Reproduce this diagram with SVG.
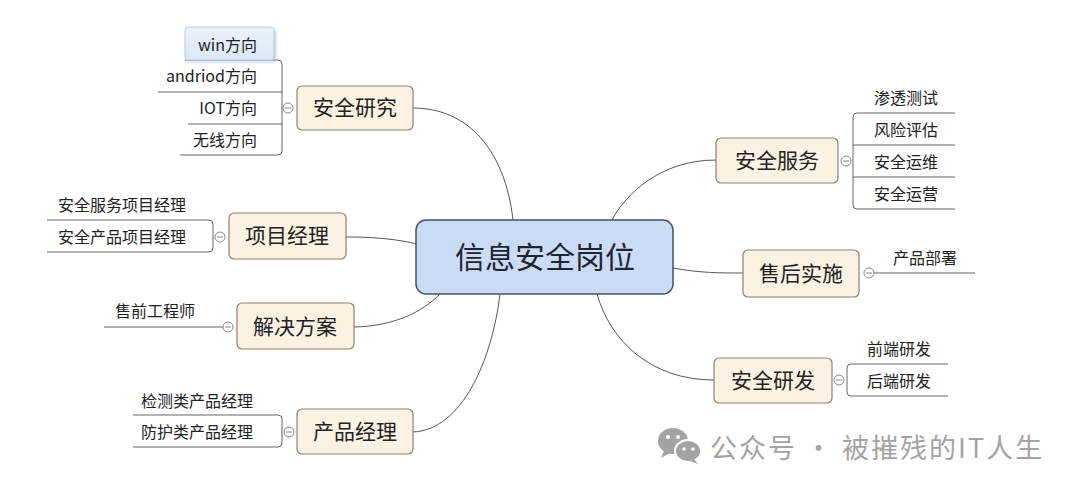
<svg xmlns="http://www.w3.org/2000/svg" width="1080" height="491" viewBox="0 0 1080 491">
<defs>
<style>
text{font-family:"Noto Sans CJK SC","Noto Sans",sans-serif;fill:#222}
.node rect{fill:#fcf2e4;stroke:#8a8075;stroke-width:1.2}
.nt{font-size:21px;text-anchor:middle}
.ct{font-size:30px;text-anchor:middle;fill:#1f2530}
.ch{font-size:16px}
.end{text-anchor:end}
.line{fill:none;stroke:#555;stroke-width:1}
.br{fill:none;stroke:#666;stroke-width:1}
.col circle{fill:#fff;stroke:#888;stroke-width:1}
.col line{stroke:#888;stroke-width:1}
.wm{font-size:27px;fill:#a3a3a3;letter-spacing:2px}
</style>
<linearGradient id="sel" x1="0" y1="0" x2="0" y2="1">
<stop offset="0" stop-color="#eaf2fa"/>
<stop offset="1" stop-color="#dbe8f5"/>
</linearGradient>
<filter id="sh" x="-20%" y="-30%" width="140%" height="160%">
<feGaussianBlur stdDeviation="1.5"/>
</filter>
</defs>
<rect width="1080" height="491" fill="#fff"/>

<g id="connectors">
<path class="line" d="M413,108 C468,108 505,150 513,220"/>
<path class="line" d="M346,237 C380,237 400,240 417,244"/>
<path class="line" d="M354,327 C395,326 422,312 440,294"/>
<path class="line" d="M413,432 C462,430 492,360 500,294"/>
<path class="line" d="M716,160 C660,160 625,195 612,220"/>
<path class="line" d="M673,268 C700,273 720,273 743,273"/>
<path class="line" d="M714,380 C650,380 610,340 597,294"/>
</g>

<g id="center">
<rect x="416" y="220" width="257" height="74" rx="10" fill="#cadcf5" stroke="#4a5260" stroke-width="1.5"/>
<text class="ct" x="545" y="268">信息安全岗位</text>
</g>

<g id="anquan-yanjiu">
<g class="node"><rect x="297" y="86" width="116" height="44" rx="5"/></g>
<text class="nt" x="355" y="115">安全研究</text>
<g class="col"><circle cx="288" cy="108" r="5"/><line x1="285" y1="108" x2="291" y2="108"/></g>
<path class="br" d="M185,60 H278 Q282,60 282,64 V151 Q282,155 278,155 H180"/>
<path class="br" d="M158,92 H282 M188,124 H282"/>
<rect x="186" y="29" width="90" height="33" rx="3" fill="#9fb9d0" filter="url(#sh)" opacity="0.7"/>
<rect x="185" y="27" width="89" height="33" rx="3" fill="url(#sel)" stroke="#b9cfe2"/>
<text class="ch end" x="257" y="51">win方向</text>
<text class="ch end" x="257" y="82">andriod方向</text>
<text class="ch end" x="257" y="114">IOT方向</text>
<text class="ch end" x="257" y="146">无线方向</text>
</g>

<g id="xiangmu-jingli">
<g class="node"><rect x="229" y="213" width="117" height="46" rx="5"/></g>
<text class="nt" x="287" y="243">项目经理</text>
<g class="col"><circle cx="220" cy="237" r="5"/><line x1="217" y1="237" x2="223" y2="237"/></g>
<path class="br" d="M47,220 H209 Q213,220 213,224 V248 Q213,252 209,252 H47"/>
<text class="ch end" x="186" y="211">安全服务项目经理</text>
<text class="ch end" x="186" y="243">安全产品项目经理</text>
</g>

<g id="jiejue-fangan">
<g class="node"><rect x="237" y="303" width="117" height="46" rx="5"/></g>
<text class="nt" x="295" y="334">解决方案</text>
<g class="col"><circle cx="228" cy="327" r="5"/><line x1="225" y1="327" x2="231" y2="327"/></g>
<path class="br" d="M104,327 H223"/>
<text class="ch end" x="195" y="317">售前工程师</text>
</g>

<g id="chanpin-jingli">
<g class="node"><rect x="297" y="409" width="116" height="45" rx="5"/></g>
<text class="nt" x="355" y="439">产品经理</text>
<g class="col"><circle cx="289" cy="432" r="5"/><line x1="286" y1="432" x2="292" y2="432"/></g>
<path class="br" d="M133,415 H278 Q282,415 282,419 V443 Q282,447 278,447 H133"/>
<text class="ch end" x="253" y="407">检测类产品经理</text>
<text class="ch end" x="253" y="438">防护类产品经理</text>
</g>

<g id="anquan-fuwu">
<g class="node"><rect x="716" y="138" width="122" height="45" rx="5"/></g>
<text class="nt" x="777" y="168">安全服务</text>
<g class="col"><circle cx="846" cy="161" r="5"/><line x1="843" y1="161" x2="849" y2="161"/></g>
<path class="br" d="M955,113 H857 Q853,113 853,117 V205 Q853,209 857,209 H955"/>
<path class="br" d="M853,145 H955 M853,177 H955"/>
<text class="ch" x="874" y="104">渗透测试</text>
<text class="ch" x="874" y="136">风险评估</text>
<text class="ch" x="874" y="168">安全运维</text>
<text class="ch" x="874" y="200">安全运营</text>
</g>

<g id="shouhou-shishi">
<g class="node"><rect x="743" y="250" width="116" height="47" rx="5"/></g>
<text class="nt" x="801" y="281">售后实施</text>
<g class="col"><circle cx="869" cy="273" r="5"/><line x1="866" y1="273" x2="872" y2="273"/></g>
<path class="br" d="M874,273 H975"/>
<text class="ch" x="893" y="264">产品部署</text>
</g>

<g id="anquan-yanfa">
<g class="node"><rect x="714" y="358" width="118" height="45" rx="5"/></g>
<text class="nt" x="773" y="388">安全研发</text>
<g class="col"><circle cx="839" cy="380" r="5"/><line x1="836" y1="380" x2="842" y2="380"/></g>
<path class="br" d="M948,364 H851 Q847,364 847,368 V392 Q847,396 851,396 H948"/>
<text class="ch" x="867" y="355">前端研发</text>
<text class="ch" x="867" y="387">后端研发</text>
</g>

<g id="watermark">
<ellipse cx="673" cy="441" rx="15" ry="13" fill="#a3a3a3"/>
<path d="M664,451 L661,458 L670,453 Z" fill="#a3a3a3"/>
<circle cx="668" cy="437" r="2" fill="#fff"/>
<circle cx="678" cy="437" r="2" fill="#fff"/>
<ellipse cx="688" cy="451" rx="13" ry="11" fill="#a3a3a3" stroke="#fff" stroke-width="2"/>
<path d="M694,459 L698,464 L690,461 Z" fill="#a3a3a3"/>
<circle cx="684" cy="449" r="1.7" fill="#fff"/>
<circle cx="693" cy="449" r="1.7" fill="#fff"/>
<text class="wm" x="710" y="458">公众号 · 被摧残的IT人生</text>
</g>
</svg>
